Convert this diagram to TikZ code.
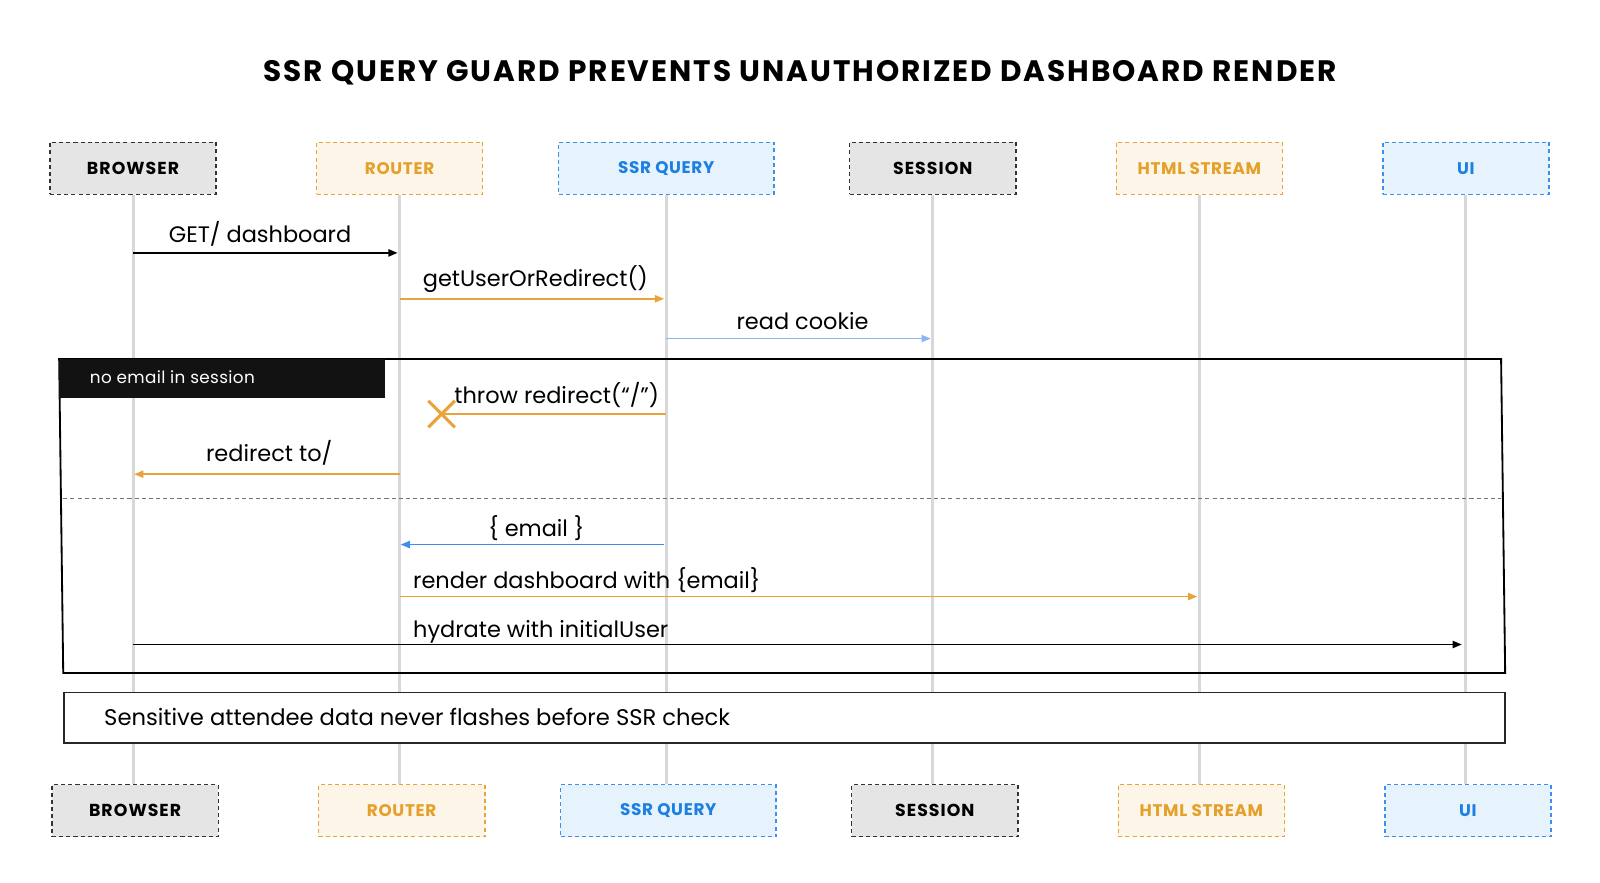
\documentclass[tikz,border=0pt]{standalone}
\usepackage{fontspec}
\setmainfont{Poppins}
\usetikzlibrary{arrows.meta}
\definecolor{org}{HTML}{E8A33A}
\definecolor{orgtxt}{HTML}{E4A02A}
\definecolor{orgfill}{HTML}{FDF5E8}
\definecolor{blu}{HTML}{3D8FEF}
\definecolor{blutxt}{HTML}{1C7FE3}
\definecolor{blufill}{HTML}{E6F2FC}
\definecolor{lblu}{HTML}{8AB4F3}
\definecolor{gryfill}{HTML}{E5E5E5}
\definecolor{gryline}{HTML}{333333}
\definecolor{life}{HTML}{D8D8D8}
\tikzset{
  actor/.style={draw, dash pattern=on 4pt off 3pt, line width=1.4pt, minimum width=163pt, minimum height=51pt, inner sep=0pt, font=\fontsize{17}{20}\selectfont\bfseries\addfontfeatures{LetterSpace=6}},
  grayactor/.style={actor, draw=gryline, fill=gryfill, text=black},
  orgactor/.style={actor, draw=org, fill=orgfill, text=orgtxt, font=\fontsize{16.5}{20}\selectfont\bfseries\addfontfeatures{LetterSpace=4}},
  bluactor/.style={actor, draw=blu, fill=blufill, text=blutxt, font=\fontsize{16.5}{20}\selectfont\bfseries\addfontfeatures{LetterSpace=4}},
  lifeline/.style={draw=life, line width=3pt},
  msg/.style={line width=1.6pt, -{Triangle[length=9pt,width=7pt]}},
  msgtxt/.style={font=\fontsize{22}{26}\selectfont, inner sep=0pt},
}
\begin{document}
\begin{tikzpicture}[x=1pt,y=-1pt]
\useasboundingbox (0,0) rectangle (1569,865);
\fill[white] (0,0) rectangle (1569,865);

% title
\node[anchor=base, inner sep=0pt, font=\fontsize{29}{32}\selectfont\bfseries\addfontfeatures{LetterSpace=6.6}] (title) at (784.5,80) {SSR QUERY GUARD PREVENTS UNAUTHORIZED DASHBOARD RENDER};

% top actors
\node[grayactor] (tB) at (130.5,165) {BROWSER};
\node[orgactor] (tR) at (391.9,165) {ROUTER};
\node[bluactor, minimum width=211pt] (tS) at (653.3,165) {SSR QUERY};
\node[grayactor] (tSe) at (914.7,165) {SESSION};
\node[orgactor] (tH) at (1176.1,165) {HTML STREAM};
\node[bluactor] (tU) at (1437.5,165) {UI};

% bottom actors
\node[grayactor] (bB) at (132.5,795) {BROWSER};
\node[orgactor] (bR) at (393.9,795) {ROUTER};
\node[bluactor, minimum width=211pt] (bS) at (655.3,795) {SSR QUERY};
\node[grayactor] (bSe) at (916.7,795) {SESSION};
\node[orgactor] (bH) at (1178.1,795) {HTML STREAM};
\node[bluactor] (bU) at (1439.5,795) {UI};

% lifelines
\foreach \a/\b in {tB/bB,tR/bR,tS/bS,tSe/bSe,tH/bH,tU/bU}{
  \draw[lifeline] (\a.south) -- (\a.south |- \b.north);
}

% row coordinates
\coordinate (y1) at (0,248);
\coordinate (y2) at (0,293);
\coordinate (y3) at (0,332);
\coordinate (y4) at (0,406);
\coordinate (y5) at (0,465);
\coordinate (y6) at (0,534);
\coordinate (y7) at (0,585);
\coordinate (y8) at (0,632);

% messages before frame
\draw[msg, black, line width=1.8pt] (tB |- y1) -- ([xshift=-2pt]tR.south |- y1);
\node[msgtxt, anchor=base] (l1) at (255,238) {GET/ dashboard};

\draw[msg, org] (tR |- y2) -- ([xshift=-2pt]tS.south |- y2);
\node[msgtxt, anchor=base] (l2) at (525,281) {getUserOrRedirect()};

\draw[msg, lblu, line width=1.3pt] (tS |- y3) -- ([xshift=-2pt]tSe.south |- y3);
\node[msgtxt, anchor=base] (l3) at (787,323) {read cookie};

% frame
\draw[line width=1.8pt, black] (58,352) -- (1472,352) -- (1476,660) -- (62,660) -- cycle;
\fill[black!93] (58,352) rectangle (378,390);
\node[anchor=base west, inner sep=0pt, text=white, font=\fontsize{16.5}{19}\selectfont\addfontfeatures{LetterSpace=2}] (flabel) at (88,376) {no email in session};
\draw[dashed, dash pattern=on 4pt off 3pt, draw=black!55, line width=1pt] (62,489) -- (1472,489);

% throw redirect
\coordinate (xmark) at (433,406);
\draw[org, line width=1.8pt] (tS |- y4) -- (xmark);
\draw[org, line width=3pt] ([shift={(-13,-13)}]xmark) -- ([shift={(13,13)}]xmark);
\draw[org, line width=3pt] ([shift={(-13,13)}]xmark) -- ([shift={(13,-13)}]xmark);
\node[msgtxt, anchor=base] (l4) at (546,396) {throw redirect(“/”)};

\draw[msg, org] (tR |- y5) -- ([xshift=1pt]tB.south |- y5);
\node[msgtxt, anchor=base] (l5) at (264,453) {redirect to/};

\draw[msg, blu] ([xshift=-2pt]tS.south |- y6) -- ([xshift=1pt]tR.south |- y6);
\node[msgtxt, anchor=base] (l6) at (526,526) {\{ email \}};

\draw[msg, org] (tR |- y7) -- ([xshift=-2pt]tH.south |- y7);
\node[msgtxt, anchor=base west] (l7) at (405,577) {render dashboard with \{email\}};

\draw[msg, black, line width=1.8pt] (tB |- y8) -- ([xshift=-4pt]tU.south |- y8);
\node[msgtxt, anchor=base west] (l8) at (405,625) {hydrate with initialUser};

% note
\draw[line width=1.8pt, draw=black!85, fill=white] (63,679) rectangle (1476,729);
\node[msgtxt, anchor=base west, font=\fontsize{22.2}{26}\selectfont] (note) at (102,711) {Sensitive attendee data never flashes before SSR check};
\end{tikzpicture}
\end{document}
